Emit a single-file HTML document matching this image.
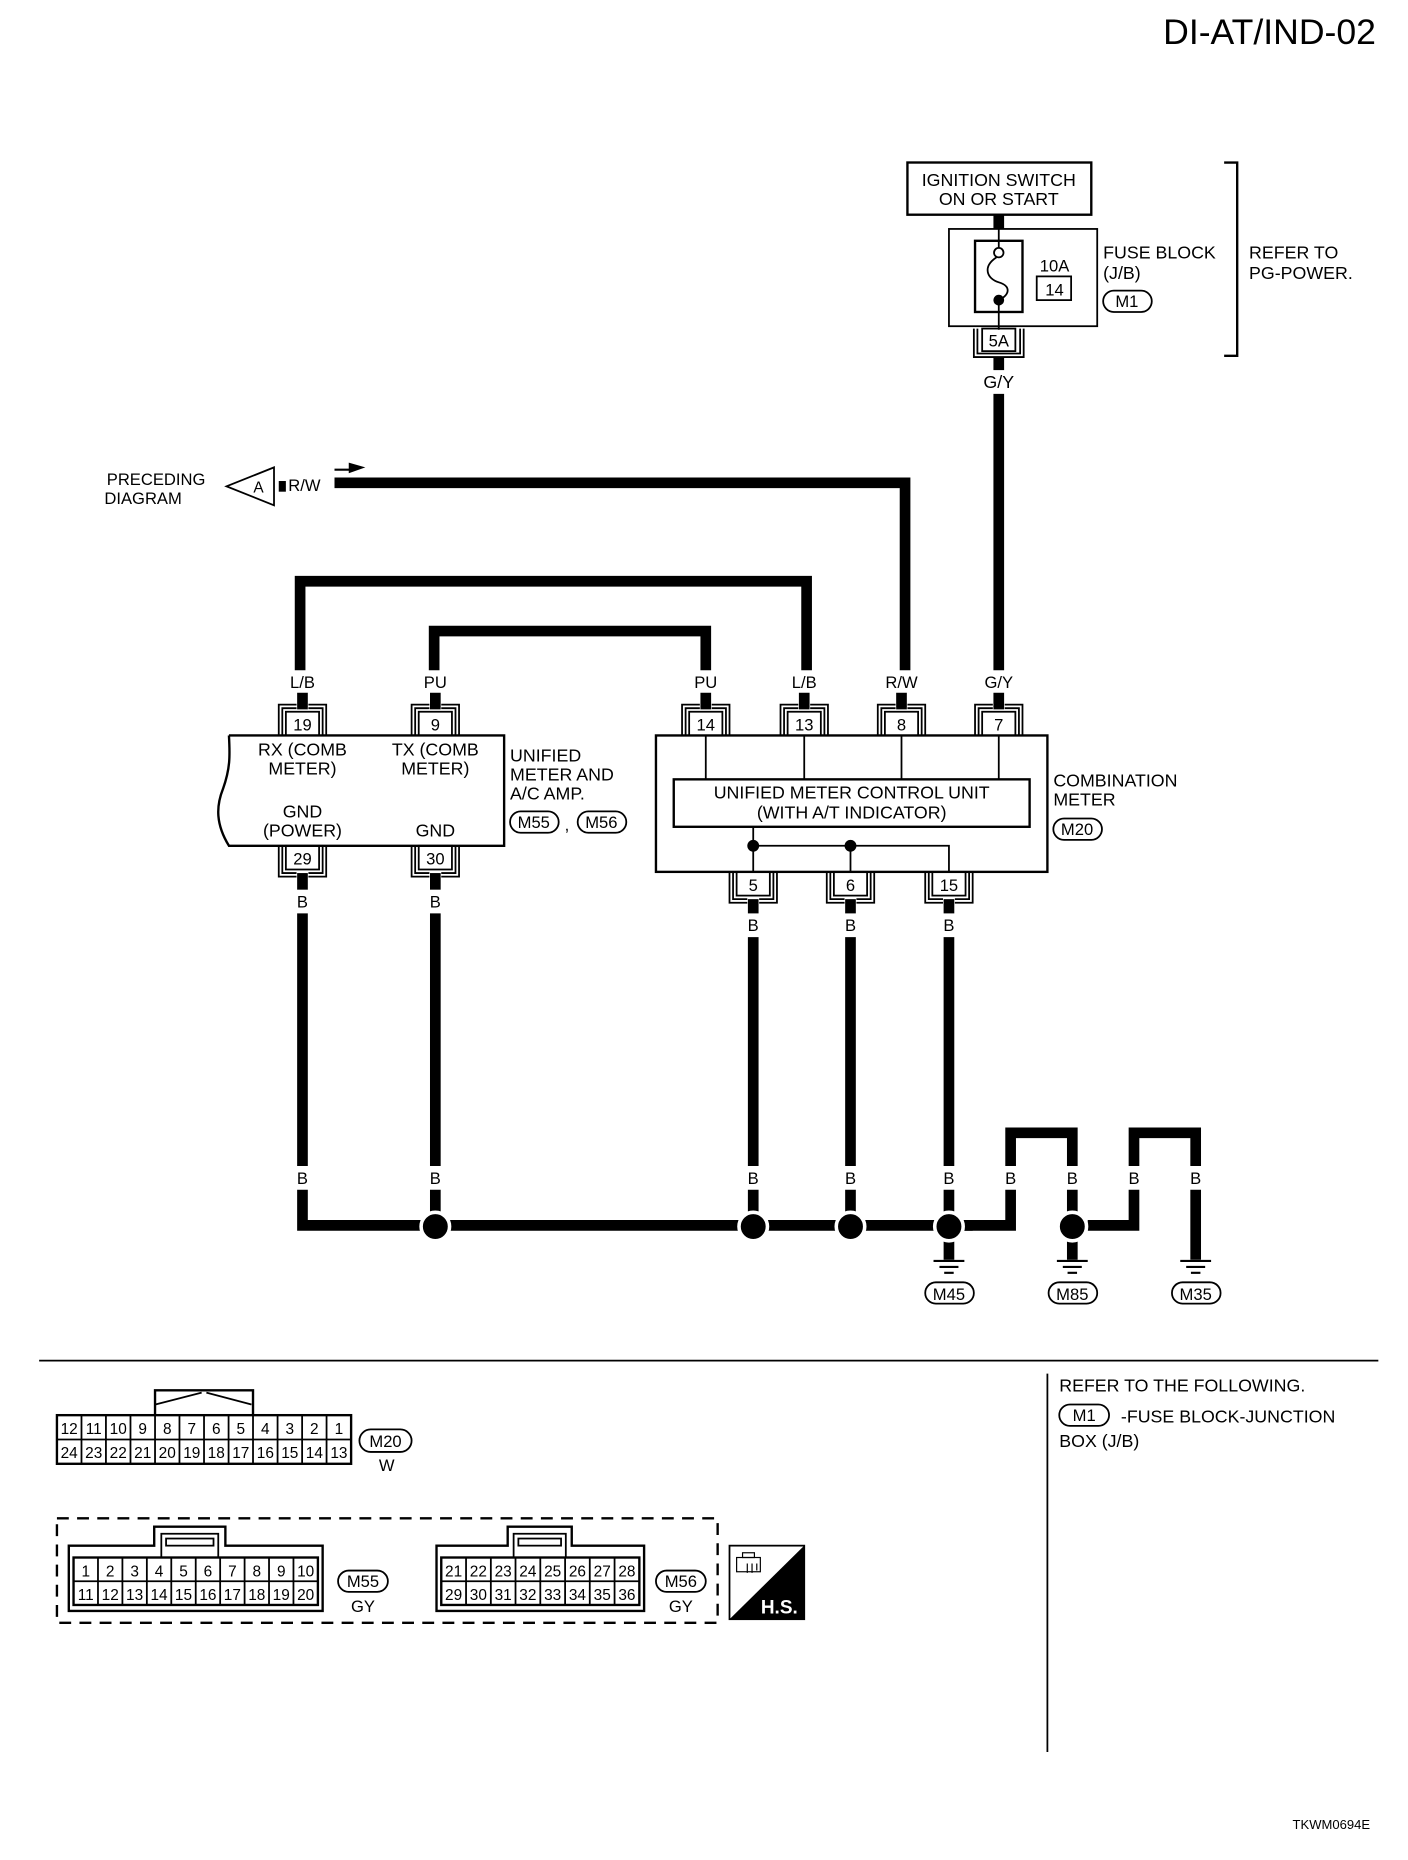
<!DOCTYPE html>
<html><head><meta charset="utf-8">
<style>
html,body{margin:0;padding:0;background:#fff;}
svg{display:block;}
text{font-family:"Liberation Sans",Arial,sans-serif;fill:#000;}
</style></head>
<body>
<svg width="1408" height="1860" viewBox="0 0 1187 1568" preserveAspectRatio="none" xmlns="http://www.w3.org/2000/svg">
<rect width="1200" height="1585.2" fill="#fff"/>
<text x="1160" y="37" font-size="30" text-anchor="end">DI-AT/IND-02</text>

<g fill="none" stroke="#000">
<rect x="765" y="137" width="155" height="44" stroke-width="2"/>
<rect x="800" y="193" width="125" height="82" stroke-width="1.5"/>
<rect x="822" y="203" width="40" height="60" stroke-width="2"/>
<rect x="874" y="233" width="29" height="20" stroke-width="1.5"/>
<line x1="842" y1="193" x2="842" y2="209" stroke-width="1.5"/>
<circle cx="842" cy="213" r="4" stroke-width="1.5"/>
<path d="M840 217 C828 225 832 235 842 238 C852 241 852 248 842 253" stroke-width="1.5"/>
<line x1="842" y1="253" x2="842" y2="278" stroke-width="1.5"/>
<rect x="930" y="245" width="41" height="18" rx="9" stroke-width="1.5"/>
<path d="M1032 137 H1043 V300 H1032" stroke-width="2"/>
<rect x="828" y="277" width="28" height="19" stroke-width="1.5"/>
<path d="M824 277 V298 H860 V277 M821 277 V301 H863 V277" stroke-width="1.5"/>
</g>
<text x="842" y="157" font-size="15" text-anchor="middle">IGNITION SWITCH</text>
<text x="842" y="173" font-size="15" text-anchor="middle">ON OR START</text>
<text x="889" y="229" font-size="14" text-anchor="middle">10A</text>
<text x="889" y="249" font-size="14" text-anchor="middle">14</text>
<circle cx="842" cy="253" r="4.5" fill="#000"/>
<text x="930" y="218" font-size="15">FUSE BLOCK</text>
<text x="930" y="235" font-size="15">(J/B)</text>
<text x="950" y="259" font-size="14" text-anchor="middle">M1</text>
<text x="1053" y="218" font-size="15">REFER TO</text>
<text x="1053" y="235" font-size="15">PG-POWER.</text>
<text x="842" y="292" font-size="14" text-anchor="middle">5A</text>
<text x="842" y="327" font-size="15" text-anchor="middle">G/Y</text>

<g fill="none" stroke="#000" stroke-width="9">
<line x1="842" y1="181" x2="842" y2="193"/>
<line x1="842" y1="301" x2="842" y2="312"/>
<line x1="842" y1="332" x2="842" y2="565"/>
<line x1="235" y1="410" x2="241" y2="410"/>
<path d="M282 407 H763 V565"/>
<path d="M253 565 V490 H680 V565"/>
<path d="M366 565 V532 H595 V565"/>
<line x1="255" y1="584" x2="255" y2="598"/><line x1="367" y1="584" x2="367" y2="598"/>
<line x1="595" y1="584" x2="595" y2="598"/><line x1="678" y1="584" x2="678" y2="598"/>
<line x1="760" y1="584" x2="760" y2="598"/><line x1="842" y1="584" x2="842" y2="598"/>
<line x1="255" y1="736" x2="255" y2="750"/><line x1="367" y1="736" x2="367" y2="750"/>
<line x1="255" y1="770" x2="255" y2="983"/><line x1="367" y1="770" x2="367" y2="983"/>
<line x1="635" y1="758" x2="635" y2="770"/><line x1="717" y1="758" x2="717" y2="770"/><line x1="800" y1="758" x2="800" y2="770"/>
<line x1="635" y1="790" x2="635" y2="983"/><line x1="717" y1="790" x2="717" y2="983"/><line x1="800" y1="790" x2="800" y2="983"/>
<path d="M255 1003 V1033 H820"/>
<line x1="367" y1="1003" x2="367" y2="1022"/><line x1="635" y1="1003" x2="635" y2="1022"/>
<line x1="717" y1="1003" x2="717" y2="1022"/><line x1="800" y1="1003" x2="800" y2="1022"/>
<path d="M813 1033 H852 V1003"/>
<path d="M852 983 V955 H904 V983"/>
<line x1="904" y1="1003" x2="904" y2="1022"/>
<path d="M917 1033 H956 V1003"/>
<path d="M956 983 V955 H1008 V983"/>
<line x1="1008" y1="1003" x2="1008" y2="1062"/>
<line x1="800" y1="1046" x2="800" y2="1062"/>
<line x1="904" y1="1046" x2="904" y2="1062"/>
</g>
<g fill="#000" stroke="#fff" stroke-width="3">
<circle cx="367" cy="1034" r="12"/><circle cx="635" cy="1034" r="12"/>
<circle cx="717" cy="1034" r="12"/><circle cx="800" cy="1034" r="12"/>
<circle cx="904" cy="1034" r="12"/>
</g>
<g stroke="#000" stroke-width="1.8">
<line x1="787" y1="1063" x2="813" y2="1063"/><line x1="792" y1="1068" x2="808" y2="1068"/><line x1="796" y1="1073" x2="804" y2="1073"/>
<line x1="891" y1="1063" x2="917" y2="1063"/><line x1="896" y1="1068" x2="912" y2="1068"/><line x1="900" y1="1073" x2="908" y2="1073"/>
<line x1="995" y1="1063" x2="1021" y2="1063"/><line x1="1000" y1="1068" x2="1016" y2="1068"/><line x1="1004" y1="1073" x2="1012" y2="1073"/>
</g>
<g fill="none" stroke="#000" stroke-width="1.5">
<rect x="780" y="1081" width="41" height="18" rx="9"/>
<rect x="884" y="1081" width="41" height="18" rx="9"/>
<rect x="988" y="1081" width="41" height="18" rx="9"/>
</g>
<text x="800" y="1096" font-size="14" text-anchor="middle">M45</text>
<text x="904" y="1096" font-size="14" text-anchor="middle">M85</text>
<text x="1008" y="1096" font-size="14" text-anchor="middle">M35</text>
<g font-size="14" text-anchor="middle">
<text x="255" y="998">B</text><text x="367" y="998">B</text><text x="635" y="998">B</text>
<text x="717" y="998">B</text><text x="800" y="998">B</text><text x="852" y="998">B</text>
<text x="904" y="998">B</text><text x="956" y="998">B</text><text x="1008" y="998">B</text>
<text x="255" y="765">B</text><text x="367" y="765">B</text>
<text x="635" y="785">B</text><text x="717" y="785">B</text><text x="800" y="785">B</text>
</g>

<text x="90" y="409" font-size="14">PRECEDING</text>
<text x="88" y="425" font-size="14">DIAGRAM</text>
<path d="M191 410 L231 394 V426 Z" fill="none" stroke="#000" stroke-width="1.5"/>
<text x="218" y="415" font-size="13" text-anchor="middle">A</text>
<text x="243" y="414" font-size="14">R/W</text>
<line x1="282" y1="396" x2="296" y2="396" stroke="#000" stroke-width="1.8"/>
<path d="M294 390 L308 394 L294 399 Z" fill="#000"/>

<g font-size="14" text-anchor="middle">
<text x="255" y="580">L/B</text><text x="367" y="580">PU</text><text x="595" y="580">PU</text>
<text x="678" y="580">L/B</text><text x="760" y="580">R/W</text><text x="842" y="580">G/Y</text>
</g>

<g fill="none" stroke="#000" stroke-width="1.5">
<rect x="241" y="600" width="28" height="20"/><path d="M250 597 H238 V620 M260 597 H272 V620 M250 594 H235 V620 M260 594 H275 V620"/>
<rect x="353" y="600" width="28" height="20"/><path d="M362 597 H350 V620 M372 597 H384 V620 M362 594 H347 V620 M372 594 H387 V620"/>
<rect x="581" y="600" width="28" height="20"/><path d="M590 597 H578 V620 M600 597 H612 V620 M590 594 H575 V620 M600 594 H615 V620"/>
<rect x="664" y="600" width="28" height="20"/><path d="M673 597 H661 V620 M683 597 H695 V620 M673 594 H658 V620 M683 594 H698 V620"/>
<rect x="746" y="600" width="28" height="20"/><path d="M755 597 H743 V620 M765 597 H777 V620 M755 594 H740 V620 M765 594 H780 V620"/>
<rect x="828" y="600" width="28" height="20"/><path d="M837 597 H825 V620 M847 597 H859 V620 M837 594 H822 V620 M847 594 H862 V620"/>
<rect x="241" y="713" width="28" height="20"/><path d="M250 736 H238 V713 M260 736 H272 V713 M250 739 H235 V713 M260 739 H275 V713"/>
<rect x="353" y="713" width="28" height="20"/><path d="M362 736 H350 V713 M372 736 H384 V713 M362 739 H347 V713 M372 739 H387 V713"/>
<rect x="621" y="735" width="28" height="20"/><path d="M630 758 H618 V735 M640 758 H652 V735 M630 761 H615 V735 M640 761 H655 V735"/>
<rect x="703" y="735" width="28" height="20"/><path d="M712 758 H700 V735 M722 758 H734 V735 M712 761 H697 V735 M722 761 H737 V735"/>
<rect x="786" y="735" width="28" height="20"/><path d="M795 758 H783 V735 M805 758 H817 V735 M795 761 H780 V735 M805 761 H820 V735"/>
</g>
<g font-size="14" text-anchor="middle">
<text x="255" y="616">19</text><text x="367" y="616">9</text><text x="595" y="616">14</text>
<text x="678" y="616">13</text><text x="760" y="616">8</text><text x="842" y="616">7</text>
<text x="255" y="729">29</text><text x="367" y="729">30</text>
<text x="635" y="751">5</text><text x="717" y="751">6</text><text x="800" y="751">15</text>
</g>

<path d="M193 620 H425 V713 H193 C182 695 182 680 188 665 C194 648 194 638 193 620" fill="none" stroke="#000" stroke-width="2"/>
<g font-size="15" text-anchor="middle">
<text x="255" y="637">RX (COMB</text><text x="255" y="653">METER)</text>
<text x="367" y="637">TX (COMB</text><text x="367" y="653">METER)</text>
<text x="255" y="689">GND</text><text x="255" y="705">(POWER)</text>
<text x="367" y="705">GND</text>
</g>
<text x="430" y="642" font-size="15">UNIFIED</text>
<text x="430" y="658" font-size="15">METER AND</text>
<text x="430" y="674" font-size="15">A/C AMP.</text>
<g fill="none" stroke="#000" stroke-width="1.5">
<rect x="430" y="684" width="41" height="18" rx="9"/>
<rect x="487" y="684" width="41" height="18" rx="9"/>
</g>
<text x="450" y="698" font-size="14" text-anchor="middle">M55</text>
<text x="478" y="700" font-size="14" text-anchor="middle">,</text>
<text x="507" y="698" font-size="14" text-anchor="middle">M56</text>

<g fill="none" stroke="#000">
<rect x="553" y="620" width="330" height="115" stroke-width="2"/>
<rect x="568" y="657" width="300" height="40" stroke-width="2"/>
<path d="M595 620 V657 M678 620 V657 M760 620 V657 M842 620 V657" stroke-width="1.5"/>
<path d="M635 697 V735 M635 713 H800 V735 M717 713 V735" stroke-width="1.5"/>
<rect x="888" y="690" width="41" height="18" rx="9" stroke-width="1.5"/>
</g>
<circle cx="635" cy="713" r="5" fill="#000"/><circle cx="717" cy="713" r="5" fill="#000"/>
<text x="718" y="673" font-size="15" text-anchor="middle">UNIFIED METER CONTROL UNIT</text>
<text x="718" y="690" font-size="15" text-anchor="middle">(WITH A/T INDICATOR)</text>
<text x="888" y="663" font-size="15">COMBINATION</text>
<text x="888" y="679" font-size="15">METER</text>
<text x="908" y="704" font-size="14" text-anchor="middle">M20</text>

<line x1="33" y1="1147" x2="1162" y2="1147" stroke="#000" stroke-width="1.5"/>
<line x1="883" y1="1158" x2="883" y2="1477" stroke="#000" stroke-width="1.5"/>
<text x="893" y="1173" font-size="15">REFER TO THE FOLLOWING.</text>
<rect x="893" y="1184" width="42" height="18" rx="9" fill="none" stroke="#000" stroke-width="1.5"/>
<text x="914" y="1198" font-size="14" text-anchor="middle">M1</text>
<text x="945" y="1199" font-size="15">-FUSE BLOCK-JUNCTION</text>
<text x="893" y="1220" font-size="15">BOX (J/B)</text>

<g fill="none" stroke="#000" stroke-width="1.5">
<rect x="48" y="1193" width="248" height="41" stroke-width="2"/>
<line x1="48" y1="1213.5" x2="296" y2="1213.5"/>
<path d="M68.7 1193 V1234 M89.3 1193 V1234 M110 1193 V1234 M130.7 1193 V1234 M151.3 1193 V1234 M172 1193 V1234 M192.7 1193 V1234 M213.3 1193 V1234 M234 1193 V1234 M254.7 1193 V1234 M275.3 1193 V1234"/>
<path d="M130.7 1193 V1172 H213.3 V1193" stroke-width="2"/>
<path d="M131 1184 L170 1174 M174 1174 L212 1184"/>
<rect x="303" y="1205" width="44" height="19" rx="9.5"/>
</g>
<g font-size="13" text-anchor="middle">
<text x="58.3" y="1209">12</text><text x="79" y="1209">11</text><text x="99.7" y="1209">10</text><text x="120.3" y="1209">9</text>
<text x="141" y="1209">8</text><text x="161.7" y="1209">7</text><text x="182.3" y="1209">6</text><text x="203" y="1209">5</text>
<text x="223.7" y="1209">4</text><text x="244.3" y="1209">3</text><text x="265" y="1209">2</text><text x="285.7" y="1209">1</text>
<text x="58.3" y="1229">24</text><text x="79" y="1229">23</text><text x="99.7" y="1229">22</text><text x="120.3" y="1229">21</text>
<text x="141" y="1229">20</text><text x="161.7" y="1229">19</text><text x="182.3" y="1229">18</text><text x="203" y="1229">17</text>
<text x="223.7" y="1229">16</text><text x="244.3" y="1229">15</text><text x="265" y="1229">14</text><text x="285.7" y="1229">13</text>
</g>
<text x="325" y="1220" font-size="14" text-anchor="middle">M20</text>
<text x="326" y="1240" font-size="14" text-anchor="middle">W</text>

<rect x="48" y="1280" width="557" height="88" fill="none" stroke="#000" stroke-width="2" stroke-dasharray="10,7"/>

<g fill="none" stroke="#000" stroke-width="1.5">
<path d="M58 1303 H130 V1287 H190 V1303 H272 V1358 H58 Z" stroke-width="2"/>
<path d="M136 1313 V1293 H184 V1313"/>
<rect x="140" y="1297" width="40" height="6"/>
<rect x="62" y="1313" width="206" height="40" stroke-width="2"/>
<line x1="62" y1="1333" x2="268" y2="1333"/>
<path d="M82.6 1313 V1353 M103.2 1313 V1353 M123.8 1313 V1353 M144.4 1313 V1353 M165 1313 V1353 M185.6 1313 V1353 M206.2 1313 V1353 M226.8 1313 V1353 M247.4 1313 V1353"/>
<rect x="285" y="1324" width="42" height="18" rx="9"/>
</g>
<g font-size="13" text-anchor="middle">
<text x="72.3" y="1329">1</text><text x="92.9" y="1329">2</text><text x="113.5" y="1329">3</text><text x="134.1" y="1329">4</text><text x="154.7" y="1329">5</text>
<text x="175.3" y="1329">6</text><text x="195.9" y="1329">7</text><text x="216.5" y="1329">8</text><text x="237.1" y="1329">9</text><text x="257.7" y="1329">10</text>
<text x="72.3" y="1349">11</text><text x="92.9" y="1349">12</text><text x="113.5" y="1349">13</text><text x="134.1" y="1349">14</text><text x="154.7" y="1349">15</text>
<text x="175.3" y="1349">16</text><text x="195.9" y="1349">17</text><text x="216.5" y="1349">18</text><text x="237.1" y="1349">19</text><text x="257.7" y="1349">20</text>
</g>
<text x="306" y="1338" font-size="14" text-anchor="middle">M55</text>
<text x="306" y="1359" font-size="14" text-anchor="middle">GY</text>

<g fill="none" stroke="#000" stroke-width="1.5">
<path d="M368 1303 H428 V1287 H482 V1303 H543 V1358 H368 Z" stroke-width="2"/>
<path d="M433 1313 V1293 H477 V1313"/>
<rect x="437" y="1297" width="36" height="6"/>
<rect x="372" y="1313" width="167" height="40" stroke-width="2"/>
<line x1="372" y1="1333" x2="539" y2="1333"/>
<path d="M392.9 1313 V1353 M413.8 1313 V1353 M434.6 1313 V1353 M455.5 1313 V1353 M476.4 1313 V1353 M497.2 1313 V1353 M518.1 1313 V1353"/>
<rect x="553" y="1324" width="42" height="18" rx="9"/>
</g>
<g font-size="13" text-anchor="middle">
<text x="382.4" y="1329">21</text><text x="403.3" y="1329">22</text><text x="424.2" y="1329">23</text><text x="445" y="1329">24</text>
<text x="465.9" y="1329">25</text><text x="486.8" y="1329">26</text><text x="507.7" y="1329">27</text><text x="528.5" y="1329">28</text>
<text x="382.4" y="1349">29</text><text x="403.3" y="1349">30</text><text x="424.2" y="1349">31</text><text x="445" y="1349">32</text>
<text x="465.9" y="1349">33</text><text x="486.8" y="1349">34</text><text x="507.7" y="1349">35</text><text x="528.5" y="1349">36</text>
</g>
<text x="574" y="1338" font-size="14" text-anchor="middle">M56</text>
<text x="574" y="1359" font-size="14" text-anchor="middle">GY</text>

<rect x="615" y="1303" width="63" height="62" fill="#fff" stroke="#000" stroke-width="1.5"/>
<path d="M678 1303 V1365 H615 Z" fill="#000"/>
<g fill="none" stroke="#000" stroke-width="1">
<rect x="621" y="1313" width="20" height="12"/><rect x="626" y="1309" width="10" height="4"/>
<path d="M630 1318 v8 M634 1318 v8 M638 1318 v6"/>
</g>
<text x="657" y="1360" font-size="16" font-weight="bold" text-anchor="middle" style="fill:#fff">H.S.</text>

<text x="1155" y="1542" font-size="11" text-anchor="end">TKWM0694E</text>
</svg>
</body></html>
